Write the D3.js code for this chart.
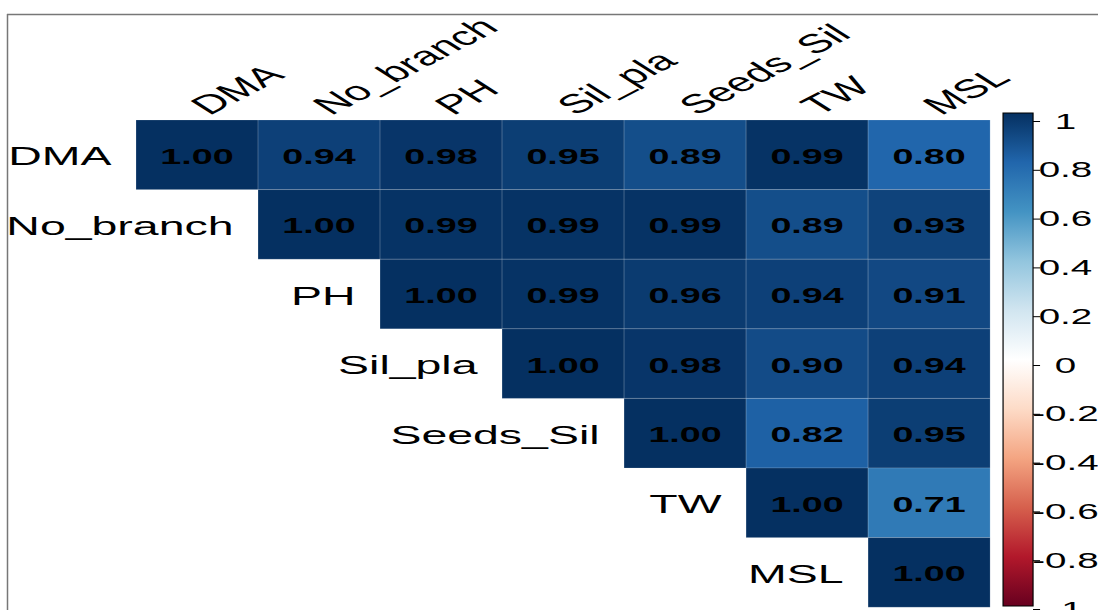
<!DOCTYPE html>
<html>
<head>
<meta charset="utf-8">
<script src="https://cdn.jsdelivr.net/npm/d3@7"></script>
<style>
  html, body { margin: 0; padding: 0; background: #fff; }
  svg { display: block; font-family: "Liberation Sans", Arial, sans-serif; }
</style>
</head>
<body>
<svg id="chart"></svg>
<script>
// variables, in plot order
var vars = ['DMA', 'No_branch', 'PH', 'Sil_pla', 'Seeds_Sil', 'TW', 'MSL'];

// upper triangle of the correlation matrix, one row per variable (from the diagonal)
var rowDMA = [1.00, 0.94, 0.98, 0.95, 0.89, 0.99, 0.80];
var rowNoBranch = [1.00, 0.99, 0.99, 0.99, 0.89, 0.93];
var rowPH = [1.00, 0.99, 0.96, 0.94, 0.91];
var rowSilPla = [1.00, 0.98, 0.90, 0.94];
var rowSeedsSil = [1.00, 0.82, 0.95];
var rowTW = [1.00, 0.71];
var rowMSL = [1.00];
var corrRows = [rowDMA, rowNoBranch, rowPH, rowSilPla, rowSeedsSil, rowTW, rowMSL];

// colour legend
var legendTicks = [1, 0.8, 0.6, 0.4, 0.2, 0, -0.2, -0.4, -0.6, -0.8, -1];
var legendLabels = ['1', '0.8', '0.6', '0.4', '0.2', '0', '-0.2', '-0.4', '-0.6', '-0.8', '-1'];
var rdbu = ['#67001F', '#B2182B', '#D6604D', '#F4A582', '#FDDBC7', '#FFFFFF',
            '#D1E5F0', '#92C5DE', '#4393C3', '#2166AC', '#053061'];

var width = 1098, height = 610;
var sx = 1.753; // the picture is stretched sideways

var svg = d3.select('#chart').attr('width', width).attr('height', height);

svg.append('defs').append('clipPath').attr('id', 'clip')
  .append('rect').attr('x', 7).attr('y', 14).attr('width', width - 7).attr('height', height - 14);

var grad = svg.select('defs').append('linearGradient')
  .attr('id', 'cbar').attr('x1', 0).attr('y1', 1).attr('x2', 0).attr('y2', 0);
rdbu.forEach(function(c, i) {
  grad.append('stop').attr('offset', (i / (rdbu.length - 1))).attr('stop-color', c);
});

// frame
svg.append('line').attr('x1', 7).attr('x2', width).attr('y1', 14.5).attr('y2', 14.5)
  .attr('stroke', '#777').attr('stroke-width', 1.5);
svg.append('line').attr('x1', 7.5).attr('x2', 7.5).attr('y1', 14).attr('y2', height)
  .attr('stroke', '#777').attr('stroke-width', 1.5);

var g = svg.append('g').attr('clip-path', 'url(#clip)')
  .append('g').attr('transform', 'scale(' + sx + ',1)');

var x = d3.scaleBand().domain(vars).range([77.6, 564.8]);
var y = d3.scaleBand().domain(vars).range([120, 607.2]);
var color = d3.scaleLinear()
  .domain(rdbu.map(function(d, i) { return -1 + i * 0.2; }))
  .range(rdbu);

var cells = [];
corrRows.forEach(function(row, i) {
  row.forEach(function(v, k) {
    cells.push({r: vars[i], c: vars[i + k], v: v});
  });
});

g.append('g').selectAll('rect')
  .data(cells)
  .enter().append('rect')
  .attr('x', function(d) { return x(d.c); })
  .attr('y', function(d) { return y(d.r); })
  .attr('width', x.bandwidth())
  .attr('height', y.bandwidth())
  .attr('fill', function(d) { return color(d.v); })
  .attr('stroke', 'rgba(255,255,255,0.25)')
  .attr('stroke-width', 0.6)
  .attr('vector-effect', 'non-scaling-stroke');

g.append('g').selectAll('text')
  .data(cells)
  .enter().append('text')
  .attr('x', function(d) { return x(d.c) + x.bandwidth() / 2; })
  .attr('y', function(d) { return y(d.r) + y.bandwidth() / 2; })
  .attr('dy', '0.42em')
  .attr('text-anchor', 'middle')
  .attr('font-size', 21.5)
  .attr('font-weight', 'bold')
  .attr('fill', '#000')
  .text(function(d) { return d.v.toFixed(2); });

// row labels, left of the diagonal
g.append('g').selectAll('text')
  .data(vars)
  .enter().append('text')
  .attr('x', function(d) { return x(d) - 14; })
  .attr('y', function(d) { return y(d) + y.bandwidth() / 2; })
  .attr('dy', '0.4em')
  .attr('text-anchor', 'end')
  .attr('font-size', 26.5)
  .attr('fill', '#000')
  .text(function(d) { return d; });

// column labels, slanted
g.append('g').selectAll('text')
  .data(vars)
  .enter().append('text')
  .attr('transform', function(d) {
    return 'translate(' + (x(d) + x.bandwidth() / 2 + 7) + ',116) rotate(-42)';
  })
  .attr('font-size', 26.5)
  .attr('fill', '#000')
  .text(function(d) { return d; });

// colour bar
var cb = d3.scaleLinear().domain([-1, 1]).range([609, 121]);
var cbX = 572.2, cbW = 17.1;
g.append('rect')
  .attr('x', cbX).attr('y', 113)
  .attr('width', cbW).attr('height', 606 - 113)
  .attr('fill', 'url(#cbar)')
  .attr('stroke', '#000').attr('stroke-width', 1.2)
  .attr('vector-effect', 'non-scaling-stroke');

var axis = g.append('g')
  .attr('transform', 'translate(' + (cbX + cbW) + ',0)')
  .call(d3.axisRight(cb).tickValues(legendTicks).tickSize(4)
    .tickFormat(function(d, i) { return legendLabels[i]; }));
axis.select('.domain').remove();
axis.selectAll('.tick line').attr('stroke', '#000').attr('vector-effect', 'non-scaling-stroke');
axis.selectAll('.tick text')
  .attr('x', 18.5)
  .attr('text-anchor', 'middle')
  .attr('font-size', 22)
  .attr('font-family', '"Liberation Sans", Arial, sans-serif')
  .attr('fill', '#000');
</script>
</body>
</html>
